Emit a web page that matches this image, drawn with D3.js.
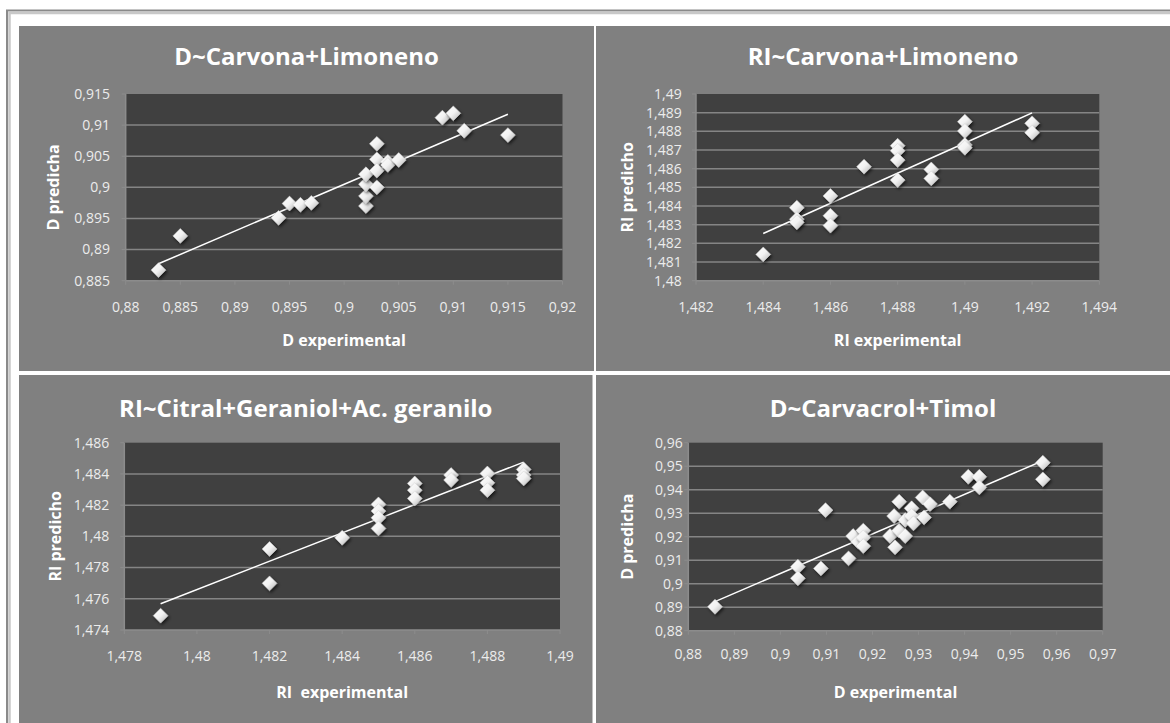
<!DOCTYPE html>
<html><head><meta charset="utf-8">
<script src="https://cdn.jsdelivr.net/npm/d3@7"></script>
<style>html,body{margin:0;padding:0;background:#fff;} svg{display:block}</style>
</head><body><svg id="c" width="1170" height="723"></svg>
<script>
// ---------------- DATA ----------------
const titles = ["D~Carvona+Limoneno", "RI~Carvona+Limoneno", "RI~Citral+Geraniol+Ac. geranilo", "D~Carvacrol+Timol"];
const xTitles = ["D experimental", "RI experimental", "RI  experimental", "D experimental"];
const yTitles = ["D predicha", "RI predicho", "RI predicho", "D predicha"];

// Panel 1: D~Carvona+Limoneno
const xExp1 = [0.883, 0.885, 0.894, 0.895, 0.896, 0.897, 0.902, 0.902, 0.902, 0.902, 0.903, 0.903, 0.903, 0.903, 0.904, 0.904, 0.905, 0.909, 0.910, 0.911, 0.915];
const yPred1 = [0.8867, 0.8922, 0.8951, 0.8974, 0.8972, 0.8975, 0.8970, 0.8986, 0.9005, 0.9021, 0.9000, 0.9070, 0.9045, 0.9027, 0.9041, 0.9036, 0.9044, 0.9112, 0.9119, 0.9091, 0.9084];
const xTicks1 = [0.88, 0.885, 0.89, 0.895, 0.9, 0.905, 0.91, 0.915, 0.92];
const yTicks1 = [0.885, 0.89, 0.895, 0.9, 0.905, 0.91, 0.915];

// Panel 2: RI~Carvona+Limoneno
const xExp2 = [1.484, 1.485, 1.485, 1.485, 1.486, 1.486, 1.486, 1.487, 1.488, 1.488, 1.488, 1.488, 1.489, 1.489, 1.490, 1.490, 1.490, 1.490, 1.492, 1.492];
const yPred2 = [1.48141, 1.48391, 1.48329, 1.48313, 1.48454, 1.48348, 1.48295, 1.48611, 1.48723, 1.48696, 1.48646, 1.48539, 1.48596, 1.48548, 1.48852, 1.48802, 1.48727, 1.48712, 1.48843, 1.48793];
const xTicks2 = [1.482, 1.484, 1.486, 1.488, 1.49, 1.492, 1.494];
const yTicks2 = [1.48, 1.481, 1.482, 1.483, 1.484, 1.485, 1.486, 1.487, 1.488, 1.489, 1.49];

// Panel 3: RI~Citral+Geraniol+Ac. geranilo
const xExp3 = [1.479, 1.482, 1.482, 1.484, 1.485, 1.485, 1.485, 1.485, 1.486, 1.486, 1.486, 1.487, 1.487, 1.488, 1.488, 1.488, 1.489, 1.489, 1.489];
const yPred3 = [1.47492, 1.47919, 1.47699, 1.47991, 1.48205, 1.48162, 1.48119, 1.48051, 1.48339, 1.48296, 1.48243, 1.48393, 1.48361, 1.48403, 1.48343, 1.48296, 1.48429, 1.48393, 1.48371];
const xTicks3 = [1.478, 1.48, 1.482, 1.484, 1.486, 1.488, 1.49];
const yTicks3 = [1.474, 1.476, 1.478, 1.48, 1.482, 1.484, 1.486];

// Panel 4: D~Carvacrol+Timol
const xExp4 = [0.8858, 0.9038, 0.9038, 0.9088, 0.9098, 0.9148, 0.9158, 0.9169, 0.918, 0.918, 0.918, 0.9238, 0.9249, 0.9247, 0.9258, 0.9258, 0.9271, 0.9271, 0.9285, 0.9285, 0.9289, 0.9309, 0.9312, 0.9325, 0.9368, 0.9408, 0.9432, 0.9432, 0.957, 0.957];
const yPred4 = [0.8902, 0.9072, 0.9023, 0.9065, 0.9313, 0.9108, 0.9203, 0.9179, 0.9226, 0.9197, 0.9160, 0.9203, 0.9155, 0.9288, 0.9349, 0.9226, 0.9271, 0.9203, 0.9321, 0.9288, 0.9257, 0.9367, 0.9282, 0.9339, 0.9349, 0.9455, 0.9455, 0.9410, 0.9515, 0.9444];
const xTicks4 = [0.88, 0.89, 0.9, 0.91, 0.92, 0.93, 0.94, 0.95, 0.96, 0.97];
const yTicks4 = [0.88, 0.89, 0.9, 0.91, 0.92, 0.93, 0.94, 0.95, 0.96];

// ---------------- LAYOUT ----------------
const layout = [
  {px: 19, py: 26, pw: 575, ph: 345, l: 125.7, r: 562.5, t: 94, b: 280.7, tyl: 110, xly: 307, yTx: 53, xTy: 340, ty: 57},
  {px: 596, py: 26, pw: 574, ph: 345, l: 696, r: 1099.3, t: 94, b: 280.7, tyl: 681.7, xly: 307.5, yTx: 627, xTy: 340, ty: 57},
  {px: 19, py: 375, pw: 573.5, ph: 348, l: 124.3, r: 560, t: 442.7, b: 630, tyl: 109.3, xly: 656, yTx: 55, xTy: 692, ty: 409},
  {px: 596, py: 375, pw: 574, ph: 348, l: 688.3, r: 1102.7, t: 442.7, b: 630.7, tyl: 682.7, xly: 654, yTx: 627, xTy: 692, ty: 409}
];

const panels = [
  {x: xExp1, y: yPred1, xt: xTicks1, yt: yTicks1},
  {x: xExp2, y: yPred2, xt: xTicks2, yt: yTicks2},
  {x: xExp3, y: yPred3, xt: xTicks3, yt: yTicks3},
  {x: xExp4, y: yPred4, xt: xTicks4, yt: yTicks4}
];

const fmt = v => String(v).replace(".", ",");
const svg = d3.select("#c");

const defs = svg.append("defs");
const g = defs.append("linearGradient").attr("id", "dg").attr("x1", "0").attr("y1", "0").attr("x2", "1").attr("y2", "1");
g.append("stop").attr("offset", "0").attr("stop-color", "#ffffff");
g.append("stop").attr("offset", "0.5").attr("stop-color", "#f2f2f2");
g.append("stop").attr("offset", "1").attr("stop-color", "#b0b0b0");
const f = defs.append("filter").attr("id", "sh").attr("x", "-50%").attr("y", "-50%").attr("width", "200%").attr("height", "200%");
f.append("feDropShadow").attr("dx", 1.5).attr("dy", 2).attr("stdDeviation", 1.5).attr("flood-color", "#000").attr("flood-opacity", 0.6);

// outer frame
svg.append("rect").attr("x", 7).attr("y", 10.5).attr("width", 1200).attr("height", 800)
  .attr("fill", "none").attr("stroke", "#8a8a8a").attr("stroke-width", 2);
svg.append("rect").attr("x", 9.5).attr("y", 13).attr("width", 1200).attr("height", 800)
  .attr("fill", "none").attr("stroke", "#c8c8c8").attr("stroke-width", 2.5);

const diamond = d3.symbol().type(d3.symbolDiamond2).size(140);

panels.forEach((p, i) => {
  const L = layout[i];
  const G = svg.append("g");
  G.append("rect").attr("x", L.px).attr("y", L.py).attr("width", L.pw).attr("height", L.ph).attr("fill", "#808080");

  const x = d3.scaleLinear().domain([p.xt[0], p.xt[p.xt.length - 1]]).range([L.l, L.r]);
  const y = d3.scaleLinear().domain([p.yt[0], p.yt[p.yt.length - 1]]).range([L.b, L.t]);

  G.append("rect").attr("x", L.l).attr("y", L.t).attr("width", L.r - L.l).attr("height", L.b - L.t).attr("fill", "#404040");

  // gridlines
  G.selectAll(".grid").data(p.yt.slice(1, -1)).join("line")
    .attr("x1", L.l).attr("x2", L.r).attr("y1", d => y(d)).attr("y2", d => y(d))
    .attr("stroke", "#858585").attr("stroke-width", 1.5);

  // axes lines
  G.append("line").attr("x1", L.l).attr("x2", L.r).attr("y1", L.b).attr("y2", L.b).attr("stroke", "#8c8c8c").attr("stroke-width", 1.5);
  G.append("line").attr("x1", L.l).attr("x2", L.l).attr("y1", L.t).attr("y2", L.b).attr("stroke", "#8c8c8c").attr("stroke-width", 1.5);
  G.selectAll(".xtk").data(p.xt).join("line")
    .attr("x1", d => x(d)).attr("x2", d => x(d)).attr("y1", L.b).attr("y2", L.b + 4)
    .attr("stroke", "#8c8c8c").attr("stroke-width", 1);
  G.selectAll(".ytk").data(p.yt).join("line")
    .attr("x1", L.l - 4).attr("x2", L.l).attr("y1", d => y(d)).attr("y2", d => y(d))
    .attr("stroke", "#8c8c8c").attr("stroke-width", 1);

  // tick labels
  G.selectAll(".xl").data(p.xt).join("text")
    .attr("x", d => x(d)).attr("y", L.xly).attr("dy", "0.35em")
    .attr("text-anchor", "middle").attr("fill", "#ececec")
    .style("font", "14px 'Open Sans', sans-serif").text(fmt);
  G.selectAll(".yl").data(p.yt).join("text")
    .attr("x", L.tyl).attr("y", d => y(d)).attr("dy", "0.35em")
    .attr("text-anchor", "end").attr("fill", "#ececec")
    .style("font", "14px 'Open Sans', sans-serif").text(fmt);

  // trendline (least squares)
  const n = p.x.length;
  const mx = d3.mean(p.x), my = d3.mean(p.y);
  let sxy = 0, sxx = 0;
  for (let k = 0; k < n; k++) { sxy += (p.x[k] - mx) * (p.y[k] - my); sxx += (p.x[k] - mx) ** 2; }
  const slope = sxy / sxx, icpt = my - slope * mx;
  const [x0, x1] = d3.extent(p.x);
  G.append("line").attr("x1", x(x0)).attr("y1", y(slope * x0 + icpt)).attr("x2", x(x1)).attr("y2", y(slope * x1 + icpt))
    .attr("stroke", "#ffffff").attr("stroke-width", 1.5);

  // points
  G.selectAll(".pt").data(d3.range(n)).join("path")
    .attr("d", diamond)
    .attr("transform", k => `translate(${x(p.x[k])},${y(p.y[k])})`)
    .attr("fill", "url(#dg)").attr("stroke", "#d0d0d0").attr("stroke-width", 0.5)
    .attr("filter", "url(#sh)");

  // titles
  G.append("text").attr("x", L.px + L.pw / 2).attr("y", L.ty).attr("dy", "0.35em")
    .attr("text-anchor", "middle").attr("fill", "#ffffff")
    .style("font", "bold 24px 'Open Sans', sans-serif").text(titles[i]);
  G.append("text").attr("x", (L.l + L.r) / 2).attr("y", L.xTy).attr("dy", "0.35em")
    .attr("text-anchor", "middle").attr("fill", "#ffffff").style("white-space", "pre")
    .style("font", "bold 16px 'Open Sans', sans-serif").text(xTitles[i]);
  G.append("text").attr("transform", `translate(${L.yTx},${(L.t + L.b) / 2}) rotate(-90)`).attr("dy", "0.35em")
    .attr("text-anchor", "middle").attr("fill", "#ffffff")
    .style("font", "bold 16px 'Open Sans', sans-serif").text(yTitles[i]);
});
</script></body></html>
